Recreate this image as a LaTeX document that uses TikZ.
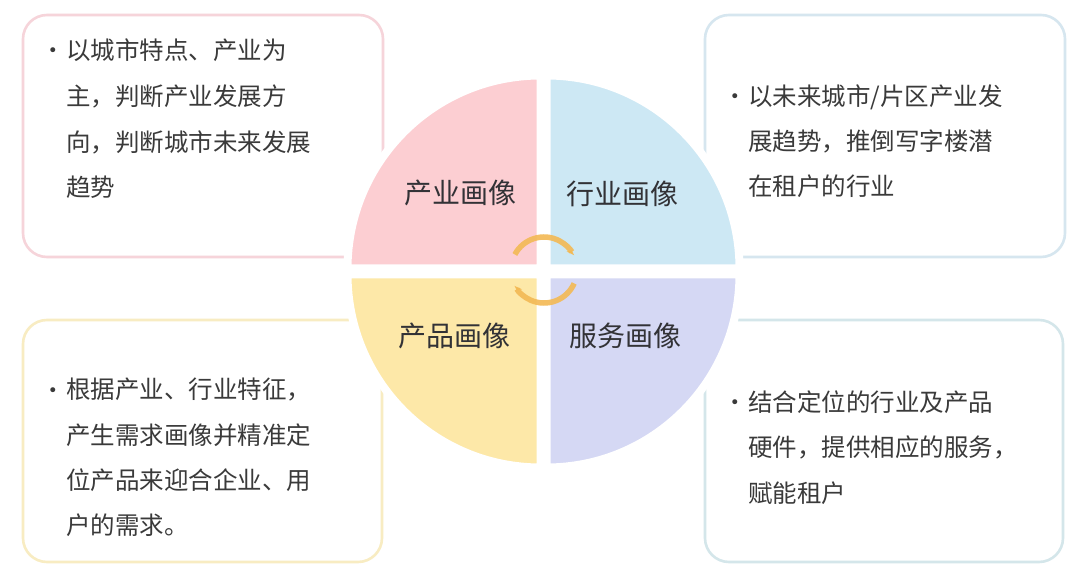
\documentclass[tikz,border=0pt]{standalone}
\usepackage{fontspec}
\setmainfont{Noto Sans CJK SC}
\newfontfamily\bulfont{DejaVu Sans}
\usetikzlibrary{arrows.meta}
\definecolor{qpink}{RGB}{252,206,210}
\definecolor{qblue}{RGB}{205,232,244}
\definecolor{qyellow}{RGB}{253,232,168}
\definecolor{qlav}{RGB}{213,216,244}
\definecolor{bpink}{RGB}{246,212,218}
\definecolor{bblue}{RGB}{214,230,239}
\definecolor{byellow}{RGB}{248,236,194}
\definecolor{bteal}{RGB}{212,230,234}
\definecolor{txt}{RGB}{58,58,58}
\definecolor{lbl}{RGB}{50,50,54}
\definecolor{arcor}{RGB}{243,185,84}
\begin{document}
\begin{tikzpicture}[x=1pt,y=-1pt,
  infobox/.style={line width=2.6pt, rounded corners=24pt, fill=white},
  quad/.style={draw=white, line width=8pt, line join=round},
  bodytext/.style={anchor=base west, inner sep=0pt, text=txt, font=\fontsize{24.5}{30}\selectfont},
  bul/.style={anchor=base, inner sep=0pt, text=txt, font=\bulfont\fontsize{17}{20}\selectfont},
  qlabel/.style={inner sep=0pt, text=lbl, font=\fontsize{28}{32}\selectfont},
  cyc/.style={draw=arcor, opacity=0.9, line width=5.5pt, -{Stealth[length=6pt,width=9pt,inset=1.5pt,right]}}]
\useasboundingbox[fill=white] (0,0) rectangle (1080,572);
\def\cx{543.5}
\def\cy{271.5}
\def\R{193}
% boxes
\draw[infobox, draw=bpink] (23,15) rectangle (383,257);
\draw[infobox, draw=bblue] (705,15) rectangle (1065,257);
\draw[infobox, draw=byellow] (23,320) rectangle (382,562);
\draw[infobox, draw=bteal] (705,320) rectangle (1063,562);
% white halo
\fill[white] (\cx,\cy) circle[radius=197];
% quadrants
\path[quad, fill=qpink] (\cx-3,\cy-3) -- ++(-\R,0) arc[start angle=180,end angle=270,radius=\R] -- cycle;
\path[quad, fill=qblue] (\cx+3,\cy-3) -- ++(\R,0) arc[start angle=0,end angle=-90,radius=\R] -- cycle;
\path[quad, fill=qyellow] (\cx-3,\cy+3) -- ++(-\R,0) arc[start angle=180,end angle=90,radius=\R] -- cycle;
\path[quad, fill=qlav] (\cx+3,\cy+3) -- ++(\R,0) arc[start angle=0,end angle=90,radius=\R] -- cycle;
% cycle arrows
\draw[cyc] (544,270) ++(-152:33) arc[start angle=-152,end angle=-26,radius=33];
\draw[cyc] (544,270) ++(24:33) arc[start angle=24,end angle=152,radius=33];
% labels
\node[qlabel] (l1) at (460,193) {产业画像};
\node[qlabel] (l2) at (622,194) {行业画像};
\node[qlabel] (l3) at (454,336) {产品画像};
\node[qlabel] (l4) at (625,336) {服务画像};
% top-left text
\node[bul] (b1) at (53,57) {•};
\node[bodytext] (t11) at (66,60) {以城市特点、产业为};
\node[bodytext] (t12) at (66,106) {主，判断产业发展方};
\node[bodytext] (t13) at (66,152) {向，判断城市未来发展};
\node[bodytext] (t14) at (66,197) {趋势};
% top-right text
\node[bul] (b2) at (735,103) {•};
\node[bodytext] (t21) at (748,106) {以未来城市/片区产业发};
\node[bodytext] (t22) at (748,151) {展趋势，推倒写字楼潜};
\node[bodytext] (t23) at (748,196) {在租户的行业};
% bottom-left text
\node[bul] (b3) at (53,396) {•};
\node[bodytext] (t31) at (66,399) {根据产业、行业特征，};
\node[bodytext] (t32) at (66,444) {产生需求画像并精准定};
\node[bodytext] (t33) at (66,489) {位产品来迎合企业、用};
\node[bodytext] (t34) at (66,534) {户的需求。};
% bottom-right text
\node[bul] (b4) at (735,408) {•};
\node[bodytext] (t41) at (748,411) {结合定位的行业及产品};
\node[bodytext] (t42) at (748,456) {硬件，提供相应的服务，};
\node[bodytext] (t43) at (748,502) {赋能租户};
\end{tikzpicture}
\end{document}
